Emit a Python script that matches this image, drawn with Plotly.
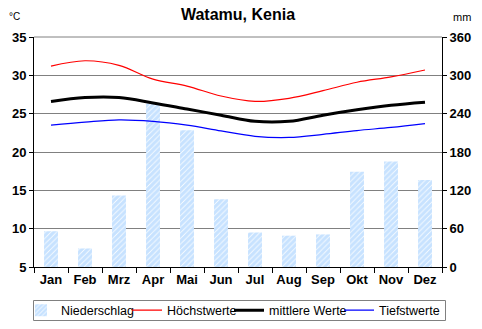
import plotly.graph_objects as go

months = ["Jan", "Feb", "Mrz", "Apr", "Mai", "Jun", "Jul", "Aug", "Sep", "Okt", "Nov", "Dez"]
niederschlag = [56, 29, 112, 256, 214, 106, 54, 49, 51, 149, 165, 136]
hoechst = [31.2, 31.9, 31.3, 29.5, 28.6, 27.3, 26.6, 27.0, 28.0, 29.1, 29.8, 30.7]
mittel = [26.6, 27.1, 27.1, 26.4, 25.6, 24.8, 24.0, 24.0, 24.8, 25.5, 26.1, 26.5]
tief = [23.5, 23.9, 24.2, 24.0, 23.5, 22.75, 22.05, 21.9, 22.3, 22.8, 23.2, 23.7]

FONT = "Arial, Liberation Sans, sans-serif"
W, H = 482, 329
ML, MR, MT, MB = 34, 40, 37, 62
PW, PH = W - ML - MR, H - MT - MB


def px_x(px):
    return (px - ML) / PW


def px_y(py):
    return (H - MB - py) / PH


fig = go.Figure()
fig.add_trace(go.Bar(
    x=months, y=niederschlag, name="Niederschlag", yaxis="y", legend="legend",
    marker=dict(color="white", line=dict(width=0),
                pattern=dict(shape="/", fgcolor="#8FC6FF", bgcolor="white", size=4, solidity=0.8)),
))
fig.add_trace(go.Scatter(x=months, y=hoechst, name="Höchstwerte", yaxis="y2", mode="lines",
                         legend="legend2",
                         line=dict(color="#FF0000", width=1.2, shape="spline")))
fig.add_trace(go.Scatter(x=months, y=mittel, name="mittlere Werte", yaxis="y2", mode="lines",
                         legend="legend3",
                         line=dict(color="#000000", width=3, shape="spline")))
fig.add_trace(go.Scatter(x=months, y=tief, name="Tiefstwerte", yaxis="y2", mode="lines",
                         legend="legend4",
                         line=dict(color="#0000FF", width=1.2, shape="spline")))

tickfont = dict(family=FONT, size=13, color="black", weight="bold")


def leg(text_start_px):
    return dict(orientation="h", x=px_x(text_start_px - 40), xanchor="left",
                y=px_y(310.5), yanchor="middle", borderwidth=0, bgcolor="rgba(0,0,0,0)",
                itemwidth=30, font=dict(family=FONT, size=12.5, color="black"))


fig.update_layout(
    width=W, height=H,
    margin=dict(l=ML, r=MR, t=MT, b=MB, autoexpand=False),
    paper_bgcolor="white", plot_bgcolor="white",
    bargap=0.59,
    showlegend=True,
    title=dict(text="Watamu, Kenia", x=0.4938, xanchor="center", y=0.955, yanchor="middle",
               font=dict(family=FONT, size=16, color="black", weight="bold")),
    xaxis=dict(type="category", showline=True, linecolor="black", linewidth=1,
               ticks="outside", ticklen=5, tickcolor="black", tickson="boundaries",
               tickangle=0, tickfont=tickfont, showgrid=False, range=[-0.5, 11.5]),
    yaxis=dict(side="right", range=[0, 360], dtick=60, showline=True, linecolor="black",
               ticks="outside", ticklen=4, tickcolor="black", showgrid=False,
               tickfont=tickfont, zeroline=False),
    yaxis2=dict(overlaying="y", side="left", range=[5, 35], dtick=5, showline=True,
                linecolor="black", ticks="outside", ticklen=4, tickcolor="black",
                showgrid=True, gridcolor="#808080", gridwidth=1, tickfont=tickfont,
                zeroline=False),
    legend=leg(61),
    legend2=leg(167),
    legend3=leg(269),
    legend4=leg(379),
    shapes=[
        dict(type="line", xref="paper", yref="paper", x0=0, x1=1, y0=1, y1=1,
             line=dict(color="#808080", width=1), layer="below"),
        dict(type="rect", xref="paper", yref="paper", x0=px_x(33.5), x1=px_x(445.5),
             y0=px_y(300.5), y1=px_y(320.5), line=dict(color="#808080", width=1),
             fillcolor="rgba(0,0,0,0)", layer="below"),
    ],
    annotations=[
        dict(text="°C", xref="paper", yref="paper", x=-0.065, y=1.09, xanchor="left",
             yanchor="middle", showarrow=False, font=dict(family=FONT, size=10, color="black")),
        dict(text="mm", xref="paper", yref="paper", x=1.075, y=1.085, xanchor="right",
             yanchor="middle", showarrow=False, font=dict(family=FONT, size=11, color="black")),
    ],
)
fig.write_html("out.html")
